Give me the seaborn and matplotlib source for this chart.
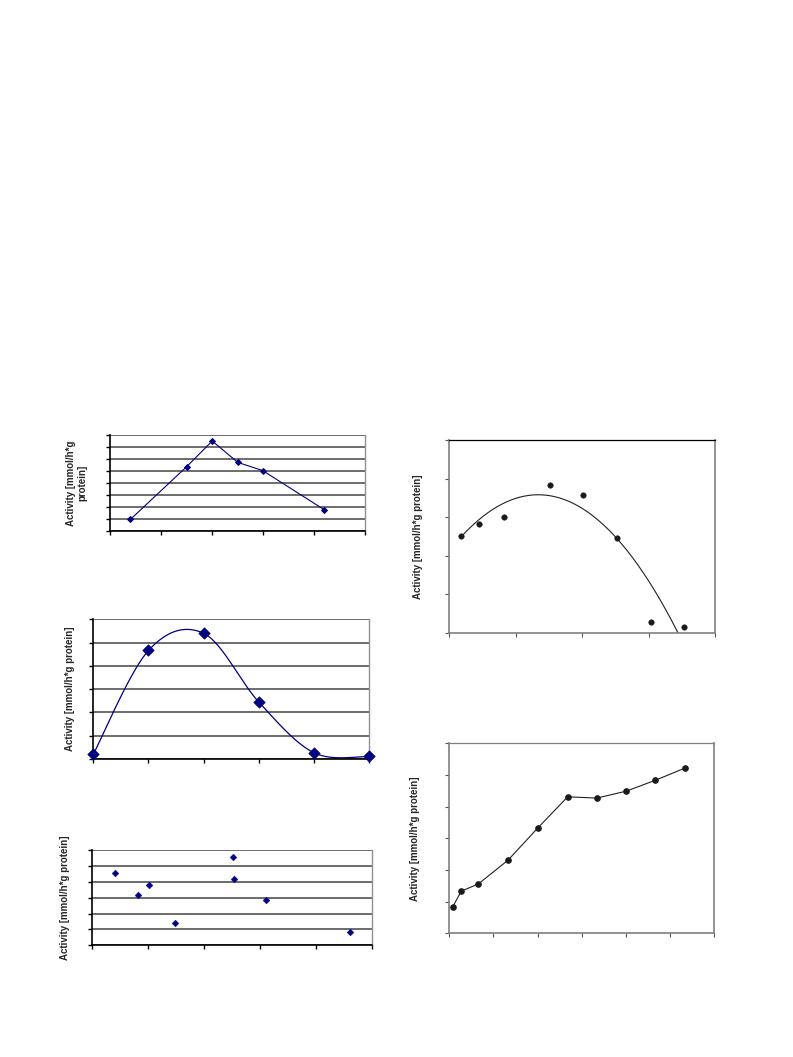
import numpy as np
import pandas as pd
import matplotlib
matplotlib.use("Agg")
import matplotlib.pyplot as plt
import seaborn as sns

# -----------------------------
# Data (arbitrary units)
# -----------------------------
a_x = [0.41, 1.51, 2.01, 2.51, 3.00, 4.20]
a_y = [0.97, 5.36, 7.50, 5.72, 5.03, 1.78]

b_x = [0, 1, 2, 3, 4, 5]
b_y = [0.20, 4.66, 5.40, 2.45, 0.27, 0.11]

c_x = [0.42, 0.82, 1.02, 1.49, 2.52, 2.54, 3.11, 4.61]
c_y = [4.59, 3.16, 3.83, 1.41, 5.58, 4.17, 2.84, 0.82]

d_x = [0.18, 0.44, 0.82, 1.52, 2.02, 2.52, 3.03, 3.53]
d_y = [2.51, 2.83, 3.01, 3.84, 3.56, 2.47, 0.28, 0.16]
d_trend = [-0.81, 2.17, 2.126]   # quadratic trendline coefficients

e_x = [0.075, 0.27, 0.66, 1.33, 2.00, 2.68, 3.34, 4.01, 4.66, 5.34]
e_y = [0.83, 1.33, 1.56, 2.31, 3.32, 4.31, 4.27, 4.49, 4.83, 5.22]

LABEL = "Activity [mmol/h*g protein]"
NAVY = "#000080"

sns.set_style("white")
plt.rcParams['font.family'] = ['Liberation Sans', 'DejaVu Sans']

W, H = 793, 1057
fig = plt.figure(figsize=(W / 100, H / 100), dpi=100)


def add_ax(l, r, t, b):
    return fig.add_axes([l / W, 1 - b / H, (r - l) / W, (b - t) / H])


def catmull_rom(x, y, n=40):
    # Excel-style smoothed line (uniform Catmull-Rom through the points)
    px = np.r_[x[0], x, x[-1]]
    py = np.r_[y[0], y, y[-1]]
    t = np.linspace(0, 1, n)
    xs, ys = [], []
    for i in range(1, len(px) - 2):
        for p, out in ((px, xs), (py, ys)):
            p0, p1, p2, p3 = p[i - 1], p[i], p[i + 1], p[i + 2]
            out.append(0.5 * (2 * p1 + (-p0 + p2) * t
                              + (2 * p0 - 5 * p1 + 4 * p2 - p3) * t ** 2
                              + (-p0 + 3 * p1 - 3 * p2 + p3) * t ** 3))
    return np.concatenate(xs), np.concatenate(ys)


def excel_style(ax, xmax, ymax, label, lx):
    ax.set_xlim(0, xmax)
    ax.set_ylim(0, ymax)
    ax.set_xticks(range(xmax + 1))
    ax.set_yticks(range(ymax + 1))
    ax.grid(axis='y', color='#454545', lw=1.1)
    ax.grid(axis='x', visible=False)
    ax.set_axisbelow(True)
    for s in ['left', 'bottom']:
        ax.spines[s].set_color('black')
        ax.spines[s].set_linewidth(1.2)
    ax.spines['right'].set_color('#909090')
    ax.spines['right'].set_linewidth(1.0)
    ax.spines['top'].set_visible(False)
    ax.tick_params(axis='both', direction='out', length=3, width=1,
                   color='black', left=True, bottom=True,
                   labelleft=False, labelbottom=False)
    ax.set_xlabel('')
    ax.set_ylabel(label, fontsize=7, fontweight='bold', linespacing=1.1)
    ax.yaxis.set_label_coords(lx, 0.5)


def frame_style(ax, xmax, ymax, label, lx, top_color):
    ax.set_xlim(0, xmax)
    ax.set_ylim(0, ymax)
    ax.set_xticks(range(xmax + 1))
    ax.set_yticks(range(ymax + 1))
    ax.grid(False)
    for s in ['left', 'bottom', 'right']:
        ax.spines[s].set_color('#808080')
        ax.spines[s].set_linewidth(1.2)
    ax.spines['top'].set_color(top_color)
    ax.spines['top'].set_linewidth(0.9)
    ax.tick_params(axis='both', direction='out', length=3, width=0.8,
                   color='#555555', left=True, bottom=True,
                   labelleft=False, labelbottom=False)
    ax.set_xlabel('')
    ax.set_ylabel(label, fontsize=7, fontweight='bold')
    ax.yaxis.set_label_coords(lx, 0.5)


# -----------------------------
# Left column
# -----------------------------
ax1 = add_ax(109.5, 365, 435, 531)
sns.lineplot(x=a_x, y=a_y, ax=ax1, color=NAVY, lw=0.8, sort=False,
             marker='D', markersize=3, markeredgecolor=NAVY)
excel_style(ax1, 5, 8, "Activity [mmol/h*g\nprotein]", -0.088)

ax2 = add_ax(93.3, 369, 619.3, 759)
sx, sy = catmull_rom(np.array(b_x, float), np.array(b_y, float))
sns.lineplot(x=sx, y=sy, ax=ax2, color=NAVY, lw=0.9, sort=False)
sns.scatterplot(x=b_x, y=b_y, ax=ax2, marker='D', s=34, color=NAVY,
                edgecolor=NAVY, clip_on=False, zorder=5)
excel_style(ax2, 5, 6, LABEL, -0.065)

ax3 = add_ax(91.7, 371.7, 850.3, 945.3)
sns.scatterplot(x=c_x, y=c_y, ax=ax3, marker='D', s=12, color=NAVY,
                edgecolor=NAVY, zorder=5)
excel_style(ax3, 5, 6, LABEL, -0.079)

# -----------------------------
# Right column
# -----------------------------
ax4 = add_ax(449.3, 715, 440, 632.7)
tx = np.linspace(d_x[0], d_x[-1], 200)
sns.lineplot(x=tx, y=np.polyval(d_trend, tx), ax=ax4, color='#222222', lw=0.8)
sns.scatterplot(x=d_x, y=d_y, ax=ax4, s=16, color='#1a1a1a',
                edgecolor='#1a1a1a', zorder=5, clip_on=False)
frame_style(ax4, 4, 5, LABEL, -0.099, 'black')

ax5 = add_ax(449.3, 714.3, 743.3, 933.3)
sns.lineplot(x=e_x, y=e_y, ax=ax5, color='#222222', lw=0.8, sort=False,
             marker='o', markersize=4, markeredgecolor='#1a1a1a',
             markerfacecolor='#1a1a1a')
frame_style(ax5, 6, 6, LABEL, -0.111, '#808080')

fig.savefig("out.png", dpi=100)
